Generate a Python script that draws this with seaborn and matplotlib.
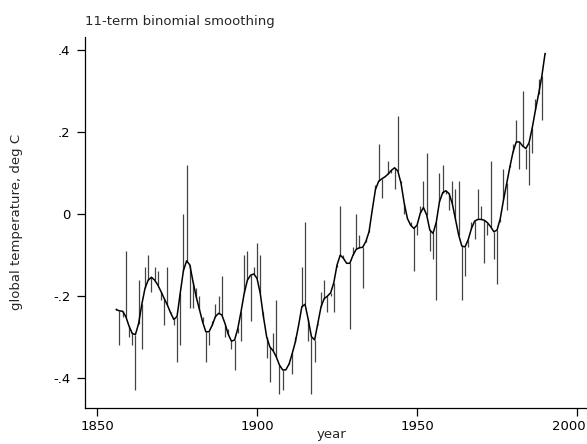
import matplotlib
matplotlib.use("Agg")
import matplotlib.pyplot as plt
import matplotlib.transforms as mtransforms
import pandas as pd
import seaborn as sns

YEARS = list(range(1856, 1991))

# yearly values (spike ends)
TEMPERATURE = [
    -0.23, -0.32, -0.25, -0.09, -0.30, -0.32, -0.43, -0.16, -0.33, -0.13,
    -0.10, -0.19, -0.13, -0.14, -0.21, -0.27, -0.13, -0.24, -0.27, -0.36,
    -0.32, 0.00, 0.12, -0.23, -0.23, -0.18, -0.20, -0.25, -0.36, -0.32,
    -0.26, -0.22, -0.20, -0.15, -0.30, -0.28, -0.33, -0.38, -0.29, -0.31,
    -0.10, -0.09, -0.26, -0.13, -0.07, -0.10, -0.24, -0.35, -0.41, -0.29,
    -0.21, -0.44, -0.43, -0.38, -0.36, -0.39, -0.30, -0.27, -0.13, -0.02,
    -0.31, -0.44, -0.36, -0.27, -0.19, -0.16, -0.24, -0.20, -0.24, -0.13,
    0.02, -0.10, -0.12, -0.28, -0.08, 0.00, -0.05, -0.18, -0.06, -0.04,
    0.01, 0.07, 0.17, 0.04, 0.09, 0.13, 0.10, 0.06, 0.24, 0.08,
    0.00, -0.01, -0.02, -0.14, -0.05, 0.02, 0.08, 0.15, -0.09, -0.11,
    -0.21, 0.10, 0.12, 0.05, 0.01, 0.08, 0.06, 0.08, -0.21, -0.15,
    -0.08, -0.02, -0.06, 0.06, 0.02, -0.12, -0.05, 0.13, -0.11, -0.17,
    -0.02, 0.11, 0.01, 0.12, 0.17, 0.23, 0.11, 0.30, 0.11, 0.07,
    0.15, 0.28, 0.33, 0.23, 0.39,
]

# 11-term binomial smoothed curve
SMOOTHED = [
    -0.233, -0.236, -0.237, -0.250, -0.273, -0.291, -0.294, -0.267, -0.220, -0.181,
    -0.161, -0.154, -0.161, -0.173, -0.189, -0.206, -0.222, -0.241, -0.257, -0.250,
    -0.193, -0.138, -0.114, -0.124, -0.165, -0.202, -0.233, -0.263, -0.287, -0.287,
    -0.271, -0.250, -0.242, -0.246, -0.267, -0.293, -0.310, -0.307, -0.279, -0.238,
    -0.193, -0.161, -0.149, -0.146, -0.157, -0.193, -0.250, -0.299, -0.324, -0.333,
    -0.348, -0.368, -0.380, -0.380, -0.366, -0.340, -0.311, -0.271, -0.226, -0.220,
    -0.257, -0.299, -0.307, -0.267, -0.226, -0.206, -0.200, -0.192, -0.167, -0.124,
    -0.100, -0.108, -0.120, -0.120, -0.100, -0.086, -0.082, -0.081, -0.067, -0.043,
    0.010, 0.060, 0.080, 0.086, 0.091, 0.098, 0.107, 0.113, 0.105, 0.075,
    0.026, -0.011, -0.027, -0.035, -0.027, 0.002, 0.016, -0.002, -0.039, -0.047,
    -0.020, 0.030, 0.052, 0.057, 0.050, 0.026, -0.013, -0.051, -0.078, -0.080,
    -0.062, -0.035, -0.017, -0.013, -0.013, -0.015, -0.021, -0.031, -0.043, -0.039,
    -0.011, 0.034, 0.075, 0.115, 0.152, 0.176, 0.176, 0.166, 0.160, 0.174,
    0.211, 0.254, 0.294, 0.337, 0.392,
]

X_TICKS = [1850, 1900, 1950, 2000]
Y_TICKS = [-0.4, -0.2, 0.0, 0.2, 0.4]
Y_TICK_LABELS = ["-.4", "-.2", "0", ".2", ".4"]

W, H = 587, 444

sns.set_theme(style="ticks")
plt.rcParams["font.family"] = ["DejaVu Sans"]

df = pd.DataFrame({"year": YEARS, "temp": TEMPERATURE, "smooth": SMOOTHED})

fig = plt.figure(figsize=(W / 100, H / 100), dpi=100)
ax = fig.add_axes([85 / W, 36 / H, (W - 85) / W, 371 / H])

ax.vlines(df["year"], df["smooth"], df["temp"], color="#444444", linewidth=0.9)
sns.lineplot(data=df, x="year", y="smooth", color="black", linewidth=1.1, ax=ax)

ax.set_xlim(1846.25, 2003.1)
ax.set_ylim(-0.473, 0.432)
ax.set_xticks(X_TICKS)
ax.set_yticks(Y_TICKS)
ax.set_yticklabels(Y_TICK_LABELS)
ax.set_xlabel("")
ax.set_ylabel("")

sns.despine(ax=ax)
for side in ["left", "bottom"]:
    ax.spines[side].set_linewidth(0.9)
    ax.spines[side].set_color("black")
ax.tick_params(axis="both", direction="out", length=5.5, width=0.9, color="black",
               labelsize=9.5, labelcolor="black")
ax.tick_params(axis="y", pad=5)
ax.tick_params(axis="x", pad=3)

# last x label is nudged left so it stays inside the figure, as in the original
last = ax.get_xticklabels()[-1]
last.set_transform(last.get_transform()
                   + mtransforms.ScaledTranslation(-0.08, 0, fig.dpi_scale_trans))

fig.text(85 / W, 1 - 25 / H, "11-term binomial smoothing", fontsize=9.5,
         ha="left", va="baseline")
fig.text(17 / W, 1 - 222 / H, "global temperature, deg C", fontsize=9.5,
         rotation=90, ha="center", va="center")
fig.text(331 / W, 1 - 434 / H, "year", fontsize=9.5, ha="center", va="center")

fig.savefig("out.png", dpi=100)
